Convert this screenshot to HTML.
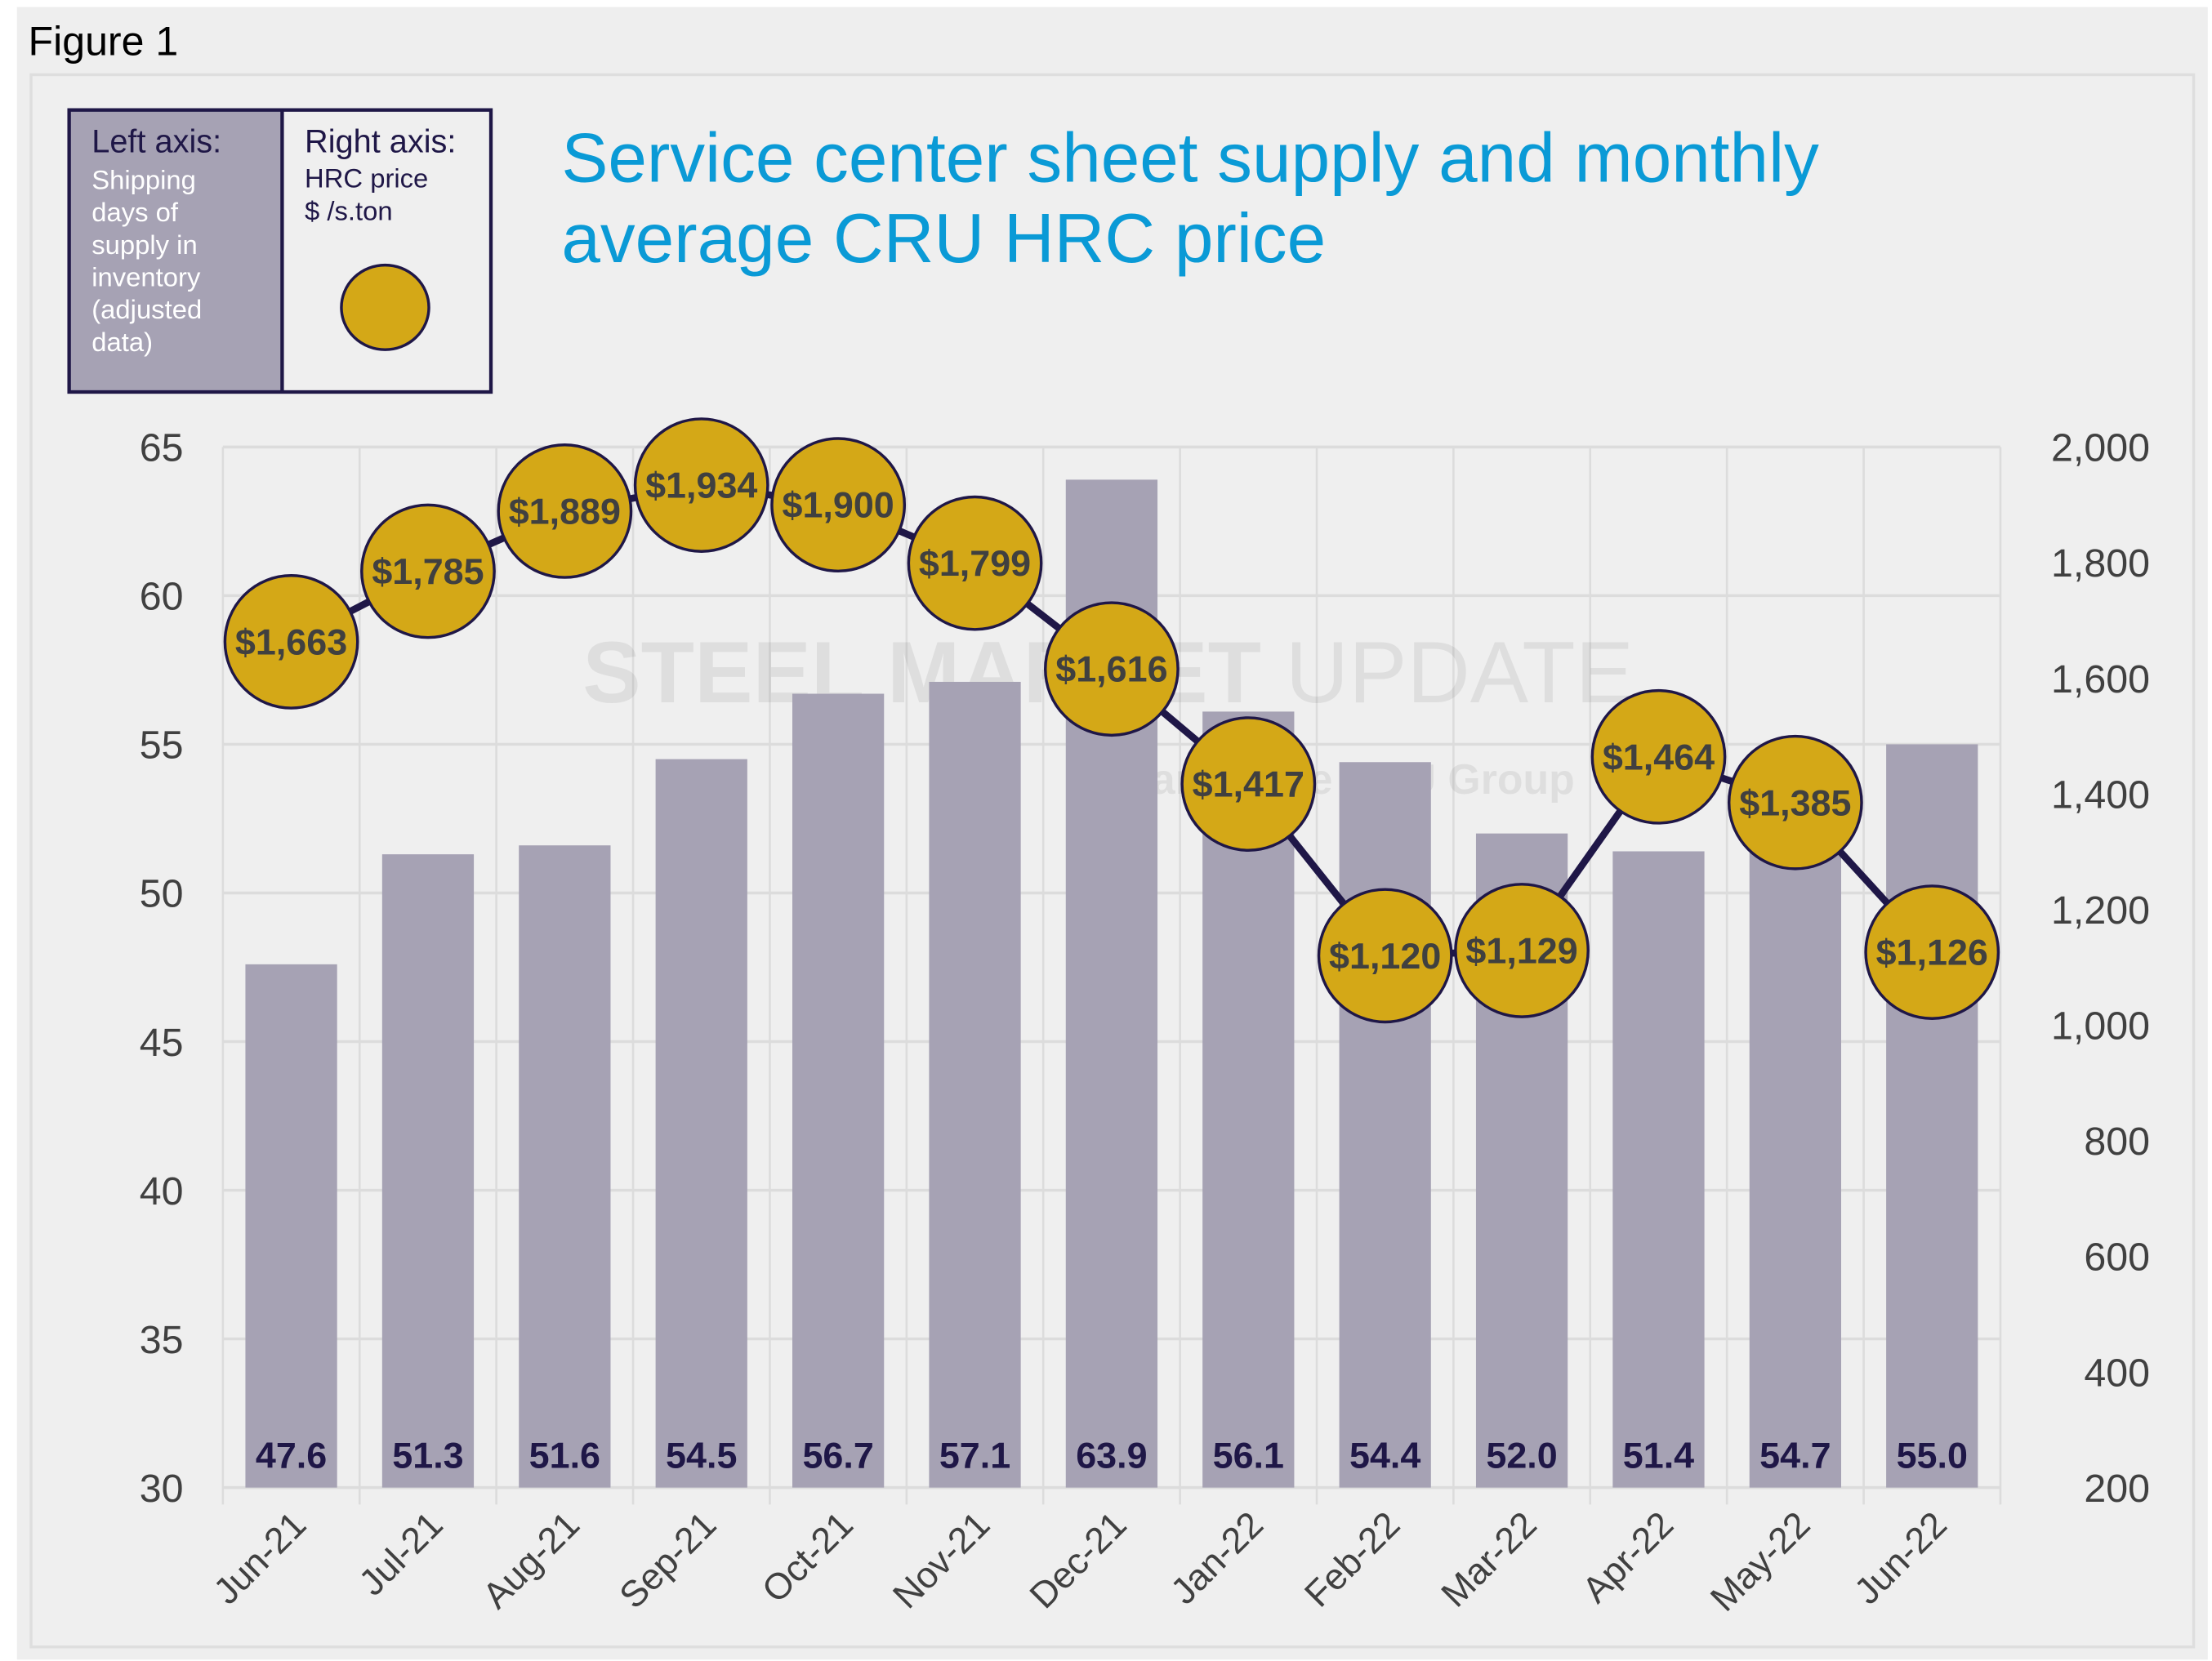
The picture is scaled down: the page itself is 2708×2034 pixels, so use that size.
<!DOCTYPE html>
<html><head><meta charset="utf-8"><style>
html,body{margin:0;padding:0;background:#fff;}
svg{display:block;font-family:"Liberation Sans",Arial,sans-serif;}
</style></head><body>
<svg id="chart" width="2708" height="2034" viewBox="0 0 1568 1178" preserveAspectRatio="none" xmlns="http://www.w3.org/2000/svg">
<rect x="0" y="0" width="1568" height="1178" fill="#ffffff"/>
<rect x="12" y="5" width="1553" height="1172" fill="#eeeeee"/>
<text x="20" y="39" font-size="29" fill="#000">Figure 1</text>
<rect x="22" y="53" width="1533" height="1115" fill="#efefef" stroke="#dedede" stroke-width="2"/>
<g>
<rect x="49" y="78" width="151" height="200" fill="#a6a2b4"/>
<rect x="200" y="78" width="148" height="200" fill="#efefef"/>
<rect x="49" y="78" width="299" height="200" fill="none" stroke="#1f1747" stroke-width="2.5"/>
<line x1="200" y1="78" x2="200" y2="278" stroke="#1f1747" stroke-width="2.5"/>
<text x="65" y="108" font-size="23" fill="#1f1747">Left axis:</text>
<g font-size="19" fill="#ffffff">
<text x="65" y="134">Shipping</text><text x="65" y="157">days of</text><text x="65" y="180">supply in</text><text x="65" y="203">inventory</text><text x="65" y="226">(adjusted</text><text x="65" y="249">data)</text></g>
<text x="216" y="108" font-size="23" fill="#1f1747">Right axis:</text>
<text x="216" y="133" font-size="19" fill="#1f1747">HRC price</text>
<text x="216" y="156" font-size="19" fill="#1f1747">$ /s.ton</text>
<ellipse cx="273" cy="218" rx="31" ry="30" fill="#d4a817" stroke="#1f1747" stroke-width="2"/>
</g>
<text x="398" y="129" font-size="49.5" fill="#0a9ad6">Service center sheet supply and monthly</text>
<text x="398" y="186" font-size="49.5" fill="#0a9ad6">average CRU HRC price</text>
<g id="grid"></g>
<g opacity="0.1">
<text x="413" y="498" font-size="62" font-weight="bold" fill="#555">STEEL MARKET <tspan font-weight="normal">UPDATE</tspan></text>
<text x="798" y="563" font-size="30" font-weight="bold" fill="#555">part of the CRU Group</text>
</g>
<g id="bars"></g>
<g id="line"></g>
<g id="axes"></g>
</svg>
<script>
const categories = ["Jun-21","Jul-21","Aug-21","Sep-21","Oct-21","Nov-21","Dec-21","Jan-22","Feb-22","Mar-22","Apr-22","May-22","Jun-22"];
const supplyDays = [47.6,51.3,51.6,54.5,56.7,57.1,63.9,56.1,54.4,52.0,51.4,54.7,55.0];
const hrcPrice = [1663,1785,1889,1934,1900,1799,1616,1417,1120,1129,1464,1385,1126];
const leftTicks = [30,35,40,45,50,55,60,65];
const rightTicks = [200,400,600,800,1000,1200,1400,1600,1800,2000];

const NS = "http://www.w3.org/2000/svg";
const L = 158, R = 1418, T = 317, B = 1055;
const bw = (R - L) / categories.length;
const yL = v => B - (v - 30) / 35 * (B - T);
const yR = v => B - (v - 200) / 1800 * (B - T);
const xC = i => L + bw * (i + 0.5);
function mk(tag, attrs, parent) { const e = document.createElementNS(NS, tag); for (const k in attrs) e.setAttribute(k, attrs[k]); parent.appendChild(e); return e; }

const grid = document.getElementById('grid');
leftTicks.forEach(t => {
  const g = mk('line', {x1: L, x2: R, y1: yL(t), y2: yL(t), stroke: '#dcdcdc', 'stroke-width': 2}, grid);
  
  
});
for (let i = 0; i <= categories.length; i++) {
  const g = mk('line', {x1: L + bw * i, x2: L + bw * i, y1: T, y2: B + 12, stroke: '#dcdcdc', 'stroke-width': 1.5}, grid);
  
  
}

const bars = document.getElementById('bars');
supplyDays.forEach((v, i) => {
  const r = mk('rect', {x: xC(i) - 32.5, y: yL(v), width: 65, height: B - yL(v), fill: '#a6a2b4'}, bars);
  
  
  const t = mk('text', {x: xC(i), y: 1041, 'text-anchor': 'middle', 'font-size': 26, 'font-weight': 'bold', fill: '#1f1747'}, bars);
  t.textContent = v.toFixed(1);
  
  
});

const line = document.getElementById('line');
const pts = hrcPrice.map((v, i) => xC(i) + ',' + yR(v)).join(' ');
const pl = mk('polyline', {points: pts, fill: 'none', stroke: '#1f1747', 'stroke-width': 5}, line);


hrcPrice.forEach((v, i) => {
  const c = mk('circle', {cx: xC(i), cy: yR(v), r: 47, fill: '#d4a817', stroke: '#1f1747', 'stroke-width': 2}, line);
  
  
  const t = mk('text', {x: xC(i), y: yR(v) + 9, 'text-anchor': 'middle', 'font-size': 26, 'font-weight': 'bold', fill: '#404040'}, line);
  t.textContent = '$' + v.toLocaleString('en-US');
  
  
});

const axes = document.getElementById('axes');
leftTicks.forEach(t => {
  const e = mk('text', {x: 130, y: yL(t) + 10, 'text-anchor': 'end', 'font-size': 28, fill: '#404040'}, axes);
  e.textContent = t;
  
  
});
rightTicks.forEach(t => {
  const e = mk('text', {x: 1524, y: yR(t) + 10, 'text-anchor': 'end', 'font-size': 28, fill: '#404040'}, axes);
  e.textContent = t.toLocaleString('en-US');
  
  
});
categories.forEach((c, i) => {
  const x = xC(i) + 12, y = 1083;
  const e = mk('text', {x: x, y: y, 'text-anchor': 'end', 'font-size': 26, fill: '#404040', transform: 'rotate(-45 ' + x + ' ' + y + ')'}, axes);
  e.textContent = c;
  
  
});
</script>
</body></html>
